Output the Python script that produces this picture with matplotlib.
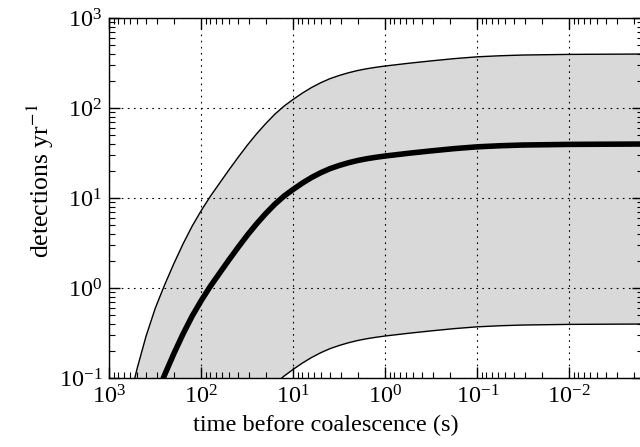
import matplotlib
matplotlib.use("Agg")
import numpy as np
import matplotlib.pyplot as plt
from matplotlib.ticker import LogLocator, LogFormatterMathtext, NullFormatter, FixedLocator

# log10 of time before coalescence (s)
log_time = [2.8, 2.7, 2.6, 2.5, 2.4, 2.3, 2.2, 2.1, 2.0, 1.9, 1.8, 1.7, 1.6, 1.5,
            1.4, 1.3, 1.2, 1.1, 1.0, 0.9, 0.8, 0.7, 0.6, 0.5, 0.4, 0.3, 0.2, 0.1,
            0.0, -0.25, -0.5, -0.75, -1.0, -1.25, -1.5, -2.0, -2.8]
# log10 of detections per year: upper, central and lower estimates
log_upper = [-1.33, -0.90, -0.53, -0.22, 0.035, 0.27, 0.49, 0.69, 0.865, 1.025, 1.17,
             1.315, 1.455, 1.59, 1.715, 1.83, 1.935, 2.025, 2.10, 2.17, 2.232, 2.285,
             2.33, 2.365, 2.395, 2.42, 2.44, 2.456, 2.47, 2.50, 2.527, 2.552, 2.572,
             2.584, 2.592, 2.599, 2.603]
log_central = [-2.33, -1.90, -1.53, -1.22, -0.965, -0.73, -0.51, -0.31, -0.135, 0.025,
               0.17, 0.315, 0.455, 0.59, 0.715, 0.83, 0.935, 1.025, 1.10, 1.17, 1.232,
               1.285, 1.33, 1.365, 1.395, 1.42, 1.44, 1.456, 1.47, 1.50, 1.527, 1.552,
               1.572, 1.584, 1.592, 1.599, 1.603]
log_lower = [-4.33, -3.90, -3.53, -3.22, -2.965, -2.73, -2.51, -2.31, -2.135, -1.975,
             -1.83, -1.685, -1.545, -1.41, -1.285, -1.17, -1.065, -0.975, -0.90, -0.83,
             -0.768, -0.715, -0.67, -0.635, -0.605, -0.58, -0.56, -0.544, -0.53, -0.50,
             -0.473, -0.448, -0.428, -0.416, -0.408, -0.401, -0.397]

# major tick positions shown on the axes
x_ticks = [1e3, 1e2, 1e1, 1e0, 1e-1, 1e-2]
y_ticks = [1e-1, 1e0, 1e1, 1e2, 1e3]

time_s = np.power(10.0, log_time)
upper = np.power(10.0, log_upper)
central = np.power(10.0, log_central)
lower = np.power(10.0, log_lower)

plt.rcParams['font.family'] = ['Liberation Serif', 'DejaVu Serif']
plt.rcParams['mathtext.fontset'] = 'stix'

fig = plt.figure(figsize=(6.4, 4.47), dpi=100)
ax = fig.add_axes([109.3/640, 1-378.3/447, 5.8*92/640, (378.3-18.3)/447])

ax.fill_between(time_s, lower, upper, color='#d9d9d9', linewidth=0, zorder=1)
ax.plot(time_s, upper, color='black', lw=1.0, zorder=3)
ax.plot(time_s, lower, color='black', lw=1.0, zorder=3)
ax.plot(time_s, central, color='black', lw=4.0, zorder=3, solid_capstyle='butt')

ax.set_xscale('log')
ax.set_yscale('log')
ax.set_xlim(1e3, 10**-2.8)
ax.set_ylim(1e-1, 1e3)

ax.xaxis.set_major_locator(FixedLocator(x_ticks))
ax.yaxis.set_major_locator(FixedLocator(y_ticks))
ax.xaxis.set_minor_locator(LogLocator(base=10, subs=range(2, 10), numticks=20))
ax.yaxis.set_minor_locator(LogLocator(base=10, subs=range(2, 10), numticks=20))
ax.xaxis.set_major_formatter(LogFormatterMathtext())
ax.yaxis.set_major_formatter(LogFormatterMathtext())
ax.xaxis.set_minor_formatter(NullFormatter())
ax.yaxis.set_minor_formatter(NullFormatter())

ax.tick_params(which='both', direction='in', top=True, right=True, labelsize=17.5)
ax.tick_params(which='major', length=8, width=1.0, pad=5)
ax.tick_params(which='minor', length=4, width=0.8)

ax.grid(True, which='major', color='black', linestyle=(0, (1.5, 4)), linewidth=0.8, zorder=2)
for s in ax.spines.values():
    s.set_linewidth(1.0)
    s.set_zorder(4)

ax.set_xlabel('time before coalescence (s)', fontsize=17.5, va='center')
ax.xaxis.set_label_coords(0.406, -0.13)
ax.set_ylabel('detections yr$^{-1}$', fontsize=18.5, va='center')
ax.yaxis.set_label_coords(-0.13, 0.548)

fig.savefig('out.png', dpi=100)
